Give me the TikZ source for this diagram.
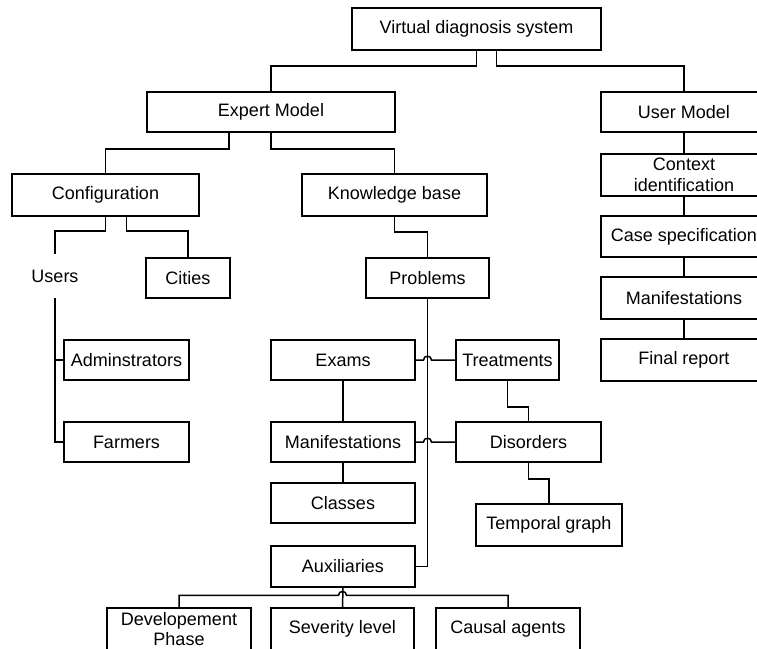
\documentclass[tikz,border=0pt]{standalone}
\usepackage{fontspec}
\setmainfont{Liberation Sans}
\tikzset{
  box/.style={draw, rectangle, inner sep=0pt, minimum height=40pt, align=center,
    font=\fontsize{18}{20.5}\selectfont},
  plain/.style={inner sep=0pt, minimum height=42pt,
    font=\fontsize{18}{20.5}\selectfont}
}
\begin{document}
\begin{tikzpicture}[x=1pt, y=-1pt, line width=1.5pt]
      \useasboundingbox (0,0) rectangle (757,648);
      \clip (0,0) rectangle (757,648);
      \draw
        (476.5,29) node[box, minimum width=249pt, minimum height=42pt] (vds){Virtual diagnosis system}
        (271,112) node[box, minimum width=248pt] (expert){Expert Model}
        (684,112) node[box, minimum width=166pt] (user){User Model}
        (684,175) node[box, minimum width=166pt, minimum height=42pt] (context){Context\\identification}
        (684,236.5) node[box, minimum width=166pt, minimum height=41pt] (casespec){Case specification}
        (684,298) node[box, minimum width=166pt, minimum height=42pt] (umanif){Manifestations}
        (684,360) node[box, minimum width=166pt, minimum height=42pt] (report){Final report}
        (105.5,195) node[box, minimum width=187pt, minimum height=42pt] (config){Configuration}
        (394.5,195) node[box, minimum width=185pt, minimum height=42pt] (kbase){Knowledge base}
        (55,276) node[plain] (users){Users}
        (188,278) node[box, minimum width=84pt] (cities){Cities}
        (126.5,360) node[box, minimum width=125pt] (admin){Adminstrators}
        (126.5,442) node[box, minimum width=125pt] (farmers){Farmers}
        (427.5,278) node[box, minimum width=123pt] (problems){Problems}
        (343,360) node[box, minimum width=144pt] (exams){Exams}
        (507.5,360) node[box, minimum width=103pt] (treat){Treatments}
        (343,442) node[box, minimum width=144pt] (emanif){Manifestations}
        (528.5,442) node[box, minimum width=145pt] (disorders){Disorders}
        (343,503) node[box, minimum width=144pt] (classes){Classes}
        (549,525) node[box, minimum width=146pt, minimum height=42pt] (temporal){Temporal graph}
        (343,566.5) node[box, minimum width=144pt, minimum height=41pt] (aux){Auxiliaries}
        (179,629) node[box, minimum width=144pt, minimum height=42pt] (devel){Developement\\Phase}
        (342.5,629) node[box, minimum width=143pt, minimum height=42pt] (severity){Severity level}
        (508,629) node[box, minimum width=144pt, minimum height=42pt] (causal){Causal agents};
      \coordinate (h1) at (problems.south |- exams.east);
      \coordinate (h2) at (problems.south |- emanif.east);
      \coordinate (h3) at ([yshift=12pt]severity.north);
      \begin{scope}[-]
        \draw (vds.south) -- ++(0,15) -| (expert.north);
        \draw ([xshift=20pt]vds.south) -- ++(0,15) -| (user.north);
        \draw (user) -- (context);
        \draw (context) -- (casespec);
        \draw (casespec) -- (umanif);
        \draw (umanif) -- (report);
        \draw ([xshift=-42pt]expert.south) -- ++(0,16) -| (config.north);
        \draw (expert.south) -- ++(0,16) -| (kbase.north);
        \draw (config.south) -- ++(0,14) -| (users.north);
        \draw ([xshift=21pt]config.south) -- ++(0,14) -| (cities.north);
        \draw (users.south) |- (admin.west);
        \draw (users.south) |- (farmers.west);
        \draw (kbase.south) -- ++(0,15) -| (problems.north);
        \draw (problems.south) |- (aux.east);
        \draw (exams.east) -- ([xshift=-4pt]h1) .. controls +(0,-5) and +(0,-5) .. ([xshift=4pt]h1) -- (treat.west);
        \draw (emanif.east) -- ([xshift=-4pt]h2) .. controls +(0,-5) and +(0,-5) .. ([xshift=4pt]h2) -- (disorders.west);
        \draw (exams) -- (emanif);
        \draw (emanif) -- (classes);
        \draw (treat.south) -- ++(0,26) -| (disorders.north);
        \draw (disorders.south) -- ++(0,16) -| (temporal.north);
        \draw (aux.south) -- (severity.north);
        \draw (devel.north) |- ([xshift=-4pt]h3) .. controls +(0,-5) and +(0,-5) .. ([xshift=4pt]h3) -| (causal.north);
      \end{scope}
    \end{tikzpicture}
\end{document}
